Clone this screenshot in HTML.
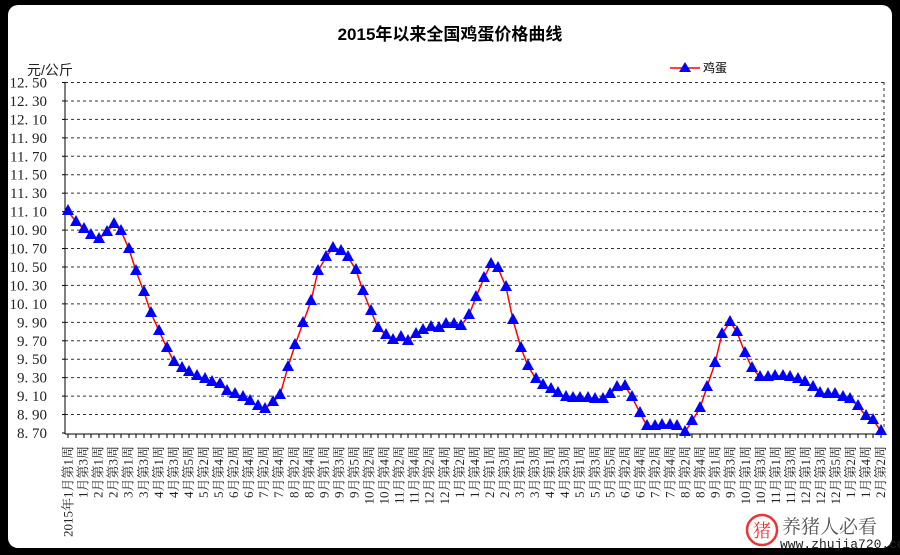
<!DOCTYPE html>
<html><head><meta charset="utf-8"><style>
html,body{margin:0;padding:0;background:#000;}
svg{display:block}
</style></head><body>
<svg id="s" width="900" height="555" xmlns="http://www.w3.org/2000/svg" font-family="'Liberation Serif','Noto Serif CJK SC',serif">
<rect x="0" y="0" width="900" height="555" fill="#000"/>
<rect x="8" y="5" width="884" height="543" rx="10" fill="#fff"/>
<text x="450" y="40" text-anchor="middle" font-size="17" font-weight="bold" font-family="'Liberation Sans','Noto Sans CJK SC',sans-serif">2015年以来全国鸡蛋价格曲线</text>
<text x="27" y="75" font-size="14" font-family="'Liberation Sans','Noto Sans CJK SC',sans-serif" fill="#222">元/公斤</text>
<g id="grid"></g>
<line x1="65" y1="82" x2="65" y2="434" stroke="#000" stroke-width="1"/>
<line x1="65" y1="434" x2="884" y2="434" stroke="#000" stroke-width="1"/>
<g id="ser"></g>
<line x1="670" y1="68" x2="700" y2="68" stroke="red" stroke-width="1.5"/>
<polygon points="685,62 679,72 691,72" fill="#0000ff"/>
<text x="703" y="72" font-size="12" font-family="'Liberation Sans','Noto Sans CJK SC',sans-serif">鸡蛋</text>
<g id="xl"></g>
<text x="782" y="533" font-size="19" fill="#555" font-family="'Noto Serif CJK SC',serif">养猪人必看</text>
<circle cx="762" cy="530" r="15" fill="none" stroke="#e33" stroke-width="2.5"/>
<text x="762" y="537" text-anchor="middle" font-size="18" fill="#e33" font-family="'Noto Serif CJK SC',serif">猪</text>
<text x="780" y="548" font-size="13" fill="#222" font-family="'Liberation Mono',monospace">www.zhujia720.com</text>
</svg>
<script>
var NS="http://www.w3.org/2000/svg";
function el(t,a,p,txt){var e=document.createElementNS(NS,t);for(var k in a)e.setAttribute(k,a[k]);if(txt)e.textContent=txt;document.getElementById(p).appendChild(e);return e;}
var y0=82.5,step=350.5/19;
for(var i=0;i<=19;i++){var y=y0+i*step;var v=(12.5-i*0.2).toFixed(2);
 if(i<19)el('line',{x1:65,y1:y,x2:884,y2:y,stroke:'#333','stroke-dasharray':'3,3','stroke-width':1},'grid');
 el('line',{x1:62,y1:y,x2:65,y2:y,stroke:'#000'},'grid');
 el('text',{x:47,y:y+5,'text-anchor':'end','font-size':15,fill:'#222'},'grid',v.replace('.','. '));}
el('line',{x1:884,y1:82,x2:884,y2:434,stroke:'#333','stroke-dasharray':'3,3'},'grid');
var pts=[[68,211],[76,222],[84,229],[91,235],[99,239],[107,232],[114,224],[121,231],[129,249],[136,271],[144,292],[151,313],[159,331],[167,348],[174,362],[182,368],[189,372],[197,376],[205,379],[212,382],[220,384],[227,391],[235,394],[243,397],[250,401],[258,406],[265,409],[273,402],[280,395],[288,367],[295,345],[303,323],[311,301],[318,271],[326,257],[333,248],[341,251],[348,257],[356,270],[363,291],[371,311],[378,328],[386,335],[393,340],[401,337],[408,341],[416,334],[423,330],[431,327],[439,328],[446,324],[454,324],[461,326],[469,315],[476,297],[484,278],[491,264],[498,268],[506,287],[513,320],[521,348],[528,366],[536,379],[543,385],[551,389],[558,393],[566,397],[573,398],[580,398],[588,398],[595,399],[603,399],[610,394],[617,387],[625,386],[632,397],[640,413],[647,426],[655,426],[662,425],[670,425],[677,426],[685,432],[692,421],[700,408],[707,387],[715,363],[722,334],[730,322],[737,332],[745,353],[752,368],[760,377],[768,377],[775,376],[783,376],[790,377],[798,379],[805,382],[813,387],[820,393],[828,394],[835,394],[843,397],[850,399],[858,406],[866,416],[873,420],[881,431]];
el('polyline',{points:pts.map(function(p){return p.join(',')}).join(' '),fill:'none',stroke:'red','stroke-width':1.5},'ser');
pts.forEach(function(p){el('polygon',{points:(p[0])+','+(p[1]-7)+' '+(p[0]-6)+','+(p[1]+4)+' '+(p[0]+6)+','+(p[1]+4),fill:'#0000ff'},'ser');
 el('line',{x1:p[0],y1:434,x2:p[0],y2:438,stroke:'#000'},'grid');});
var wk=[4,4,4,5,4,4,4,5,5,4,4,4, 5,4,4,4,5,4,4,5,4,4,4,5, 4,4];
var labs=[],idx=0;
for(var m=0;m<wk.length;m++){for(var w=1;w<=wk[m];w++){if(idx%2==0){var mm=m%12+1;var s=mm+'月第'+w+'周';if(idx==0)s='2015年'+s;if(m==12&&w==1)s='2016年'+s;if(m==24&&w==1)s='2017年'+s;labs.push(s);}idx++;}}
labs.forEach(function(s,i){var x=68+i*15.05;if(x>885)return;
 el('text',{x:0,y:0,transform:'translate('+(x+4.5)+',446) rotate(-90)','text-anchor':'end','font-size':13,fill:'#222'},'xl',s);});
</script>
</body></html>
